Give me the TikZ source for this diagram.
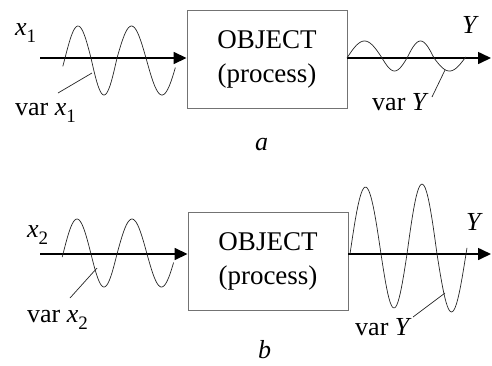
\documentclass[tikz,border=0pt]{standalone}
\usepackage{fontspec}
\setmainfont{Liberation Serif}
\usetikzlibrary{arrows.meta}
\newcommand{\xsub}[1]{\textit{x}\raisebox{-0.28em}{\fontsize{19}{19}\selectfont #1}}
\newcommand{\hw}[6]{plot[domain=#5:#6,samples=24] ({#2+(#3-#2)*\x/180},{#1-(#4)*sin(\x)})}
\newcommand{\hwc}[6]{-- plot[domain=#5:#6,samples=24] ({#2+(#3-#2)*\x/180},{#1-(#4)*sin(\x)})}
\begin{document}
\begin{tikzpicture}[x=1pt,y=-1pt,
  box/.style={draw=black!55, line width=0.9pt, minimum width=160pt, minimum height=98pt,
    inner sep=0pt, align=center, font=\fontsize{27}{34}\selectfont},
  axis/.style={line width=1.6pt, -{Triangle[length=13pt,width=12pt]}},
  wave/.style={line width=0.7pt, black!85, line join=round},
  lbl/.style={font=\fontsize{26}{30}\selectfont, inner sep=0pt, anchor=base west},
  lead/.style={line width=0.7pt, black!85}]
\useasboundingbox (0,0) rectangle (492,365);

% ---------- panel a ----------
\node[box] (objA) at (267,59) {OBJECT\\(process)};
\coordinate (inA) at (40,58);
\coordinate (outA) at (491,58);
\draw[axis] (inA) -- (inA -| objA.west);
\draw[axis] (outA -| objA.east) -- (outA);
\draw[wave] \hw{58}{65}{91}{32}{-15}{180} \hwc{58}{91}{117}{-37}{0}{180}
  \hwc{58}{117}{146}{32}{0}{180} \hwc{58}{146}{178}{-37}{0}{165};
\draw[wave] \hw{58}{347}{382}{17}{0}{180} \hwc{58}{382}{407}{-13}{0}{180}
  \hwc{58}{407}{434}{17}{0}{180} \hwc{58}{434}{465}{-13}{0}{185};
\node[lbl] (x1) at (15,35) {\xsub{1}};
\node[lbl] (vx1) at (15,115) {var \xsub{1}};
\node[lbl] (YA) at (462,33) {\textit{Y}};
\node[lbl] (vYA) at (372,110) {var \textit{Y}};
\node[lbl] (la) at (255,150) {\textit{a}};
\coordinate (l1a) at (58,93);
\coordinate (l1b) at (92,73);
\draw[lead] (l1a) -- (l1b);
\coordinate (l2a) at (432,97);
\coordinate (l2b) at (445,70);
\draw[lead] (l2a) -- (l2b);

% ---------- panel b ----------
\node[box] (objB) at (268,261) {OBJECT\\(process)};
\coordinate (inB) at (40,254);
\coordinate (outB) at (491,254);
\draw[axis] (inB) -- (inB -| objB.west);
\draw[axis] (outB -| objB.east) -- (outB);
\draw[wave] \hw{254}{63}{91}{35}{-5}{180} \hwc{254}{91}{117}{-33}{0}{180}
  \hwc{254}{117}{147}{35}{0}{180} \hwc{254}{147}{176}{-33}{0}{165};
\draw[wave] \hw{254}{350}{381}{67}{0}{180} \hwc{254}{381}{407}{-54}{0}{180}
  \hwc{254}{407}{437}{70}{0}{180} \hwc{254}{437}{466}{-58}{0}{186};
\node[lbl] (x2) at (27,237) {\xsub{2}};
\node[lbl] (vx2) at (27,322) {var \xsub{2}};
\node[lbl] (YB) at (466,230) {\textit{Y}};
\node[lbl] (vYB) at (355,335) {var \textit{Y}};
\node[lbl] (lb) at (258,358) {\textit{b}};
\coordinate (l3a) at (70,298);
\coordinate (l3b) at (97,268);
\draw[lead] (l3a) -- (l3b);
\coordinate (l4a) at (413,317);
\coordinate (l4b) at (445,293);
\draw[lead] (l4a) -- (l4b);
\end{tikzpicture}
\end{document}
